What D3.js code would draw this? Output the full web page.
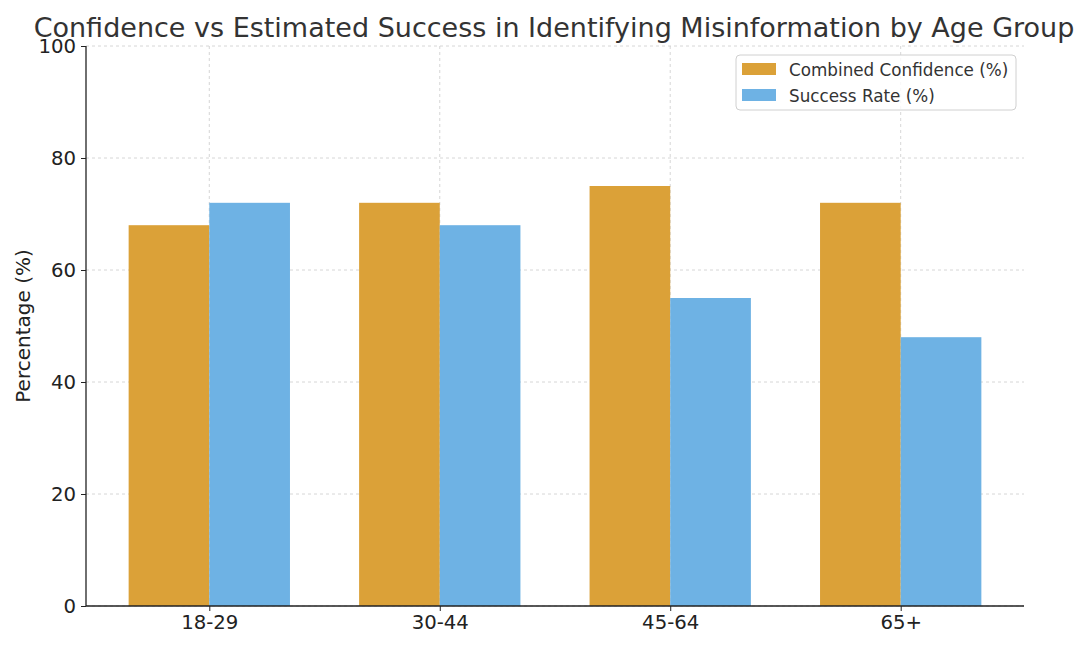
<!DOCTYPE html>
<html><head><meta charset="utf-8">
<script src="https://cdn.jsdelivr.net/npm/d3@7"></script>
<style>body{margin:0;background:#fff;} text{font-family:"DejaVu Sans",sans-serif;}</style>
</head><body>
<svg id="chart" width="1075" height="647"></svg>
<script>
const categories = ["18-29", "30-44", "45-64", "65+"];
const confidence = [68, 72, 75, 72];
const success = [72, 68, 55, 48];
const yTicks = [0, 20, 40, 60, 80, 100];
const seriesNames = ["Combined Confidence (%)", "Success Rate (%)"];
const colors = ["#DBA138", "#6EB2E4"];

const svg = d3.select("#chart");
const L = 86, R = 1024, T = 46, B = 606;
const barW = 0.35;
const x = d3.scaleLinear().domain([-0.535, 3.535]).range([L, R]);
const y = d3.scaleLinear().domain([0, 100]).range([B, T]);

// grid
const g = svg.append("g");
g.selectAll(".hg").data(yTicks).join("line")
  .attr("x1", L).attr("x2", R).attr("y1", d => y(d)).attr("y2", d => y(d))
  .attr("stroke", "#cccccc").attr("stroke-width", 0.8).attr("stroke-dasharray", "3,3");
g.selectAll(".vg").data(categories).join("line")
  .attr("x1", (d, i) => x(i)).attr("x2", (d, i) => x(i)).attr("y1", T).attr("y2", B)
  .attr("stroke", "#cccccc").attr("stroke-width", 0.8).attr("stroke-dasharray", "3,3");

// bars
const series = [confidence, success];
series.forEach((vals, s) => {
  svg.append("g").selectAll("rect").data(vals).join("rect")
    .attr("x", (d, i) => x(i + (s === 0 ? -barW : 0)))
    .attr("width", x(barW) - x(0))
    .attr("y", d => y(d))
    .attr("height", d => y(0) - y(d))
    .attr("fill", colors[s]);
});

// axes
const xAxis = d3.axisBottom(x).tickValues(d3.range(categories.length)).tickFormat(i => categories[i]).tickSize(5).tickPadding(4);
const xa = svg.append("g").attr("transform", `translate(0,${B})`).call(xAxis);
xa.select(".domain").attr("d", `M${L},0H${R}`).attr("stroke", "#222").attr("stroke-width", 1.3);
xa.selectAll("text").attr("font-size", 19.7).attr("fill", "#222").attr("font-family", "DejaVu Sans");
xa.selectAll(".tick line").attr("stroke", "#222");

const yAxis = d3.axisLeft(y).tickValues(yTicks).tickSize(5).tickPadding(5);
const ya = svg.append("g").attr("transform", `translate(${L},0)`).call(yAxis);
ya.select(".domain").attr("d", `M0,${B}V${T}`).attr("stroke", "#222").attr("stroke-width", 1.3);
ya.selectAll("text").attr("font-size", 19.7).attr("fill", "#222").attr("font-family", "DejaVu Sans");
ya.selectAll(".tick line").attr("stroke", "#222");

// labels
svg.append("text").attr("x", 554).attr("y", 37).attr("text-anchor", "middle")
  .attr("font-size", 27).attr("fill", "#333").text("Confidence vs Estimated Success in Identifying Misinformation by Age Group");
svg.append("text").attr("transform", `translate(30,${(T + B) / 2}) rotate(-90)`).attr("text-anchor", "middle")
  .attr("font-size", 20).attr("fill", "#222").text("Percentage (%)");

// legend
const lg = svg.append("g");
lg.append("rect").attr("x", 736).attr("y", 55).attr("width", 280).attr("height", 55).attr("rx", 4)
  .attr("fill", "#fff").attr("fill-opacity", 0.8).attr("stroke", "#d0d0d0");
seriesNames.forEach((n, i) => {
  lg.append("rect").attr("x", 742).attr("y", 63 + i * 26).attr("width", 34).attr("height", 12).attr("fill", colors[i]);
  lg.append("text").attr("x", 789).attr("y", 75.5 + i * 26).attr("font-size", 16.8).attr("fill", "#333").text(n);
});
</script>
</body></html>
